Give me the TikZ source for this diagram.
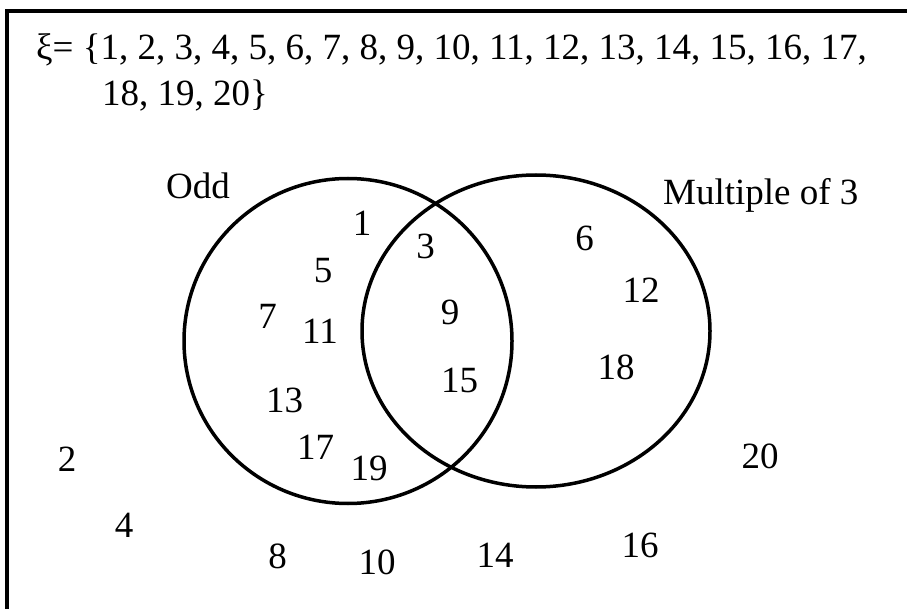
\documentclass[tikz,border=0pt]{standalone}
\usepackage{fontspec}
\setmainfont{Liberation Serif}
\usetikzlibrary{shapes.geometric}
\tikzset{
  num/.style={anchor=base, inner sep=0pt, font=\fontsize{37}{46}\selectfont},
  lbl/.style={anchor=base west, inner sep=0pt, font=\fontsize{37}{46}\selectfont},
  setring/.style={draw, ellipse, line width=3.5pt, inner sep=0pt},
  frame/.style={line width=4pt}
}
\begin{document}
\begin{tikzpicture}[x=1pt,y=-1pt]
\useasboundingbox (0,0) rectangle (907,609);
\clip (0,0) rectangle (907,609);
\fill[white] (0,0) rectangle (907,609);
% frame
\coordinate (fbl) at (7,640);
\coordinate (ftl) at (7,11);
\coordinate (ftr) at (940,11);
\draw[frame] (fbl) -- (ftl) -- (ftr);
% universal set
\node[lbl] (uni1) at (36,60) {ξ= \{1, 2, 3, 4, 5, 6, 7, 8, 9, 10, 11, 12, 13, 14, 15, 16, 17,};
\node[lbl] (uni2) at (102,106) {18, 19, 20\}};
% sets
\node[setring, minimum width=328pt, minimum height=325pt] (odd) at (348,341) {};
\node[setring, minimum width=348pt, minimum height=312pt] (mult) at (536,331) {};
\node[lbl] (oddlbl) at (166,199) {Odd};
\node[lbl] (multlbl) at (663,205) {Multiple of 3};
% elements
\node[num] (n1) at (362,236) {1};
\node[num] (n3) at (425.5,259) {3};
\node[num] (n5) at (323,283) {5};
\node[num] (n6) at (584.5,251) {6};
\node[num] (n12) at (641,303) {12};
\node[num] (n7) at (267.5,329) {7};
\node[num] (n11) at (320,344) {11};
\node[num] (n9) at (450,325) {9};
\node[num] (n18) at (616,379) {18};
\node[num] (n13) at (284.5,412) {13};
\node[num] (n15) at (459.5,392) {15};
\node[num] (n17) at (315.5,459) {17};
\node[num] (n19) at (369,480) {19};
\node[num] (n2) at (67,471) {2};
\node[num] (n20) at (760,468) {20};
\node[num] (n4) at (124,537) {4};
\node[num] (n8) at (277.5,568) {8};
\node[num] (n10) at (377,574) {10};
\node[num] (n14) at (495,567) {14};
\node[num] (n16) at (640,557) {16};
\end{tikzpicture}
\end{document}
